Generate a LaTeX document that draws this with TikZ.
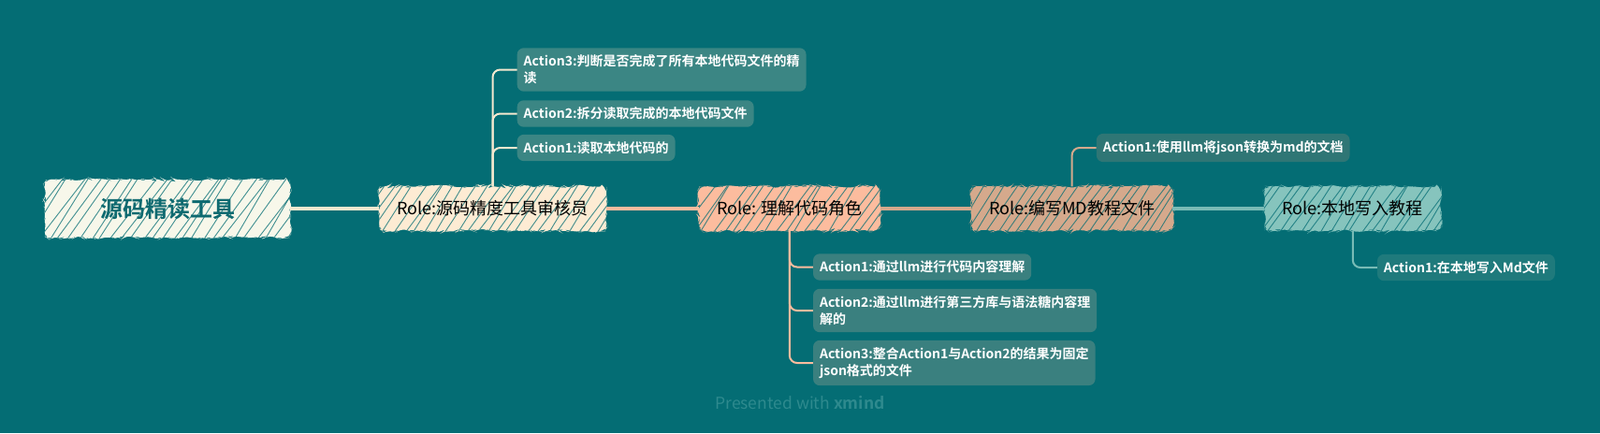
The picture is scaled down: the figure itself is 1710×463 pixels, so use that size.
\documentclass[tikz,border=0pt]{standalone}
\usepackage{fontspec}
\setmainfont{Noto Sans CJK SC}[BoldFont={Noto Sans CJK SC Bold}]
\usetikzlibrary{positioning,decorations.pathmorphing}

\definecolor{bg}{HTML}{046D74}
\definecolor{rootfill}{HTML}{F7F7EA}
\definecolor{rootink}{HTML}{0E6A70}
\definecolor{creamline}{HTML}{F4E8CF}
\definecolor{roleA}{HTML}{FDEBD3}
\definecolor{roleB}{HTML}{FCBC9E}
\definecolor{roleC}{HTML}{D5A98C}
\definecolor{roleD}{HTML}{86C4BD}
\definecolor{actA}{HTML}{3B8684}
\definecolor{actB}{HTML}{3A807F}
\definecolor{actC}{HTML}{2F7675}
\definecolor{actD}{HTML}{1F7A7C}
\definecolor{footink}{HTML}{2E8A8E}

\tikzstyle{sketch} = [rectangle, rounded corners=6pt, inner xsep=19pt, minimum height=47pt,
    decorate, decoration={random steps, segment length=4pt, amplitude=1.6pt},
    font=\fontsize{18}{22}\selectfont, text=black,
    path picture={\foreach \k in {0,...,32}
      \draw[bg, line width=0.9pt, opacity=0.75]
        ([xshift=\k*11pt-60pt+3pt*rand]path picture bounding box.south west) -- ++(56+4*rand:90pt);}]
\tikzstyle{act} = [rectangle, rounded corners=7pt, text=white, align=left,
    inner xsep=7pt, inner ysep=7.5pt, anchor=west, font=\fontsize{14}{18}\selectfont\bfseries]

\begin{document}
\begin{tikzpicture}[x=1pt,y=-1pt,
                    trunk/.style={line width=4pt},
                    twig/.style={line width=2pt, rounded corners=8pt}]
  \useasboundingbox (0,0) rectangle (1710,463);
  \fill[bg] (0,0) rectangle (1710,463);

  % main row
  \node[sketch, fill=rootfill, text=rootink, minimum width=262pt, minimum height=62pt,
        font=\fontsize{24}{28}\selectfont\bfseries] (root) at (179,223) {源码精读工具};
  \node[sketch, fill=roleA] (r1) [right=95pt of root] {Role:源码精度工具审核员};
  \node[sketch, fill=roleB] (r2) [right=99pt of r1] {Role: 理解代码角色};
  \node[sketch, fill=roleC] (r3) [right=97pt of r2] {Role:编写MD教程文件};
  \node[sketch, fill=roleD] (r4) [right=98pt of r3] {Role:本地写入教程};

  % actions
  \node[act, fill=actA] (a11) at ([xshift=26pt,yshift=65pt]r1.center) {Action1:读取本地代码的};
  \node[act, fill=actA] (a12) at ([xshift=26pt,yshift=101.5pt]r1.center) {Action2:拆分读取完成的本地代码文件};
  \node[act, fill=actA] (a13) at ([xshift=26pt,yshift=148.5pt]r1.center) {Action3:判断是否完成了所有本地代码文件的精\\读};
  \node[act, fill=actB] (a21) at ([xshift=25pt,yshift=-62.5pt]r2.center) {Action1:通过llm进行代码内容理解};
  \node[act, fill=actB] (a22) at ([xshift=25pt,yshift=-109pt]r2.center) {Action2:通过llm进行第三方库与语法糖内容理\\解的};
  \node[act, fill=actB] (a23) at ([xshift=25pt,yshift=-165pt]r2.center) {Action3:整合Action1与Action2的结果为固定\\json格式的文件};
  \node[act, fill=actC] (a31) at ([xshift=26pt,yshift=65pt]r3.center) {Action1:使用llm将json转换为md的文档};
  \node[act, fill=actD] (a41) at ([xshift=26pt,yshift=-63pt]r4.center) {Action1:在本地写入Md文件};

  \node[text=footink, font=\fontsize{17.5}{21}\selectfont] (foot) at (855,431) {Presented with \textbf{xmind}};

  % connectors
  \draw[trunk, creamline] (root) -- (r1);
  \draw[trunk, roleB] (r1) -- (r2);
  \draw[trunk, roleC] (r2) -- (r3);
  \draw[trunk, roleD!90!bg] (r3) -- (r4);
  \foreach \a in {a11,a12,a13} \draw[twig, creamline] (r1.north) |- (\a.west);
  \foreach \a in {a21,a22,a23} \draw[twig, roleB] (r2.south) |- (\a.west);
  \draw[twig, roleC] (r3.north) |- (a31.west);
  \draw[twig, roleD!90!bg] (r4.south) |- (a41.west);
\end{tikzpicture}
\end{document}
